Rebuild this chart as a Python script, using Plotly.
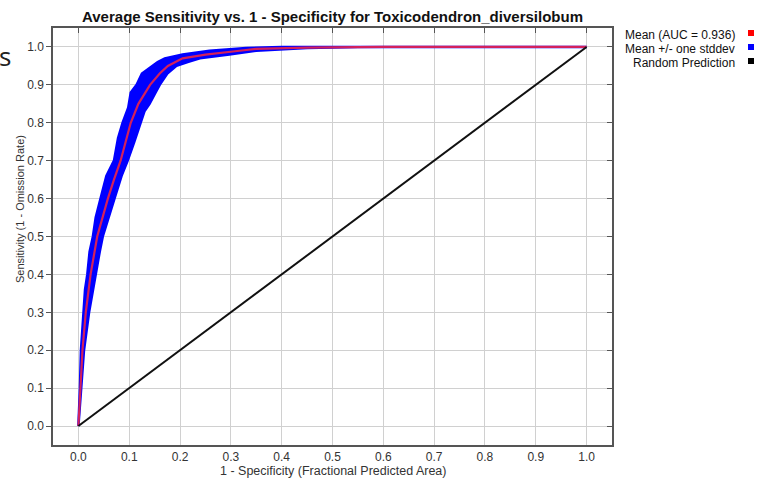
import plotly.graph_objects as go

# ---- data ----
title_text = "Average Sensitivity vs. 1 - Specificity for Toxicodendron_diversilobum"
legend_labels = ["Mean (AUC = 0.936)", "Mean +/- one stddev", "Random Prediction"]
legend_colors = ["#ff0000", "#0000ff", "#000000"]
tick_vals = [0.0, 0.1, 0.2, 0.3, 0.4, 0.5, 0.6, 0.7, 0.8, 0.9, 1.0]

# mean curve (1 - specificity, sensitivity)
mean_x = [0, 0.002, 0.005, 0.008, 0.0145, 0.024, 0.037, 0.047, 0.058, 0.07, 0.083, 0.093, 0.103,
          0.118, 0.13, 0.141, 0.16, 0.176, 0.205, 0.25, 0.317, 0.35, 0.45, 0.6, 1.0]
mean_y = [0, 0.05, 0.1, 0.2, 0.3, 0.4, 0.5, 0.55, 0.6, 0.65, 0.7, 0.75, 0.8,
          0.85, 0.875, 0.9, 0.93, 0.95, 0.97, 0.98, 0.99, 0.995, 0.998, 1.0, 1.0]

# mean + stddev edge (upper-left side of the band)
upper_x = [0, 0.002, 0.003, 0.005, 0.0105, 0.013, 0.0175, 0.022, 0.0285, 0.034, 0.0435, 0.055,
           0.07, 0.078, 0.087, 0.098, 0.103, 0.1145, 0.125, 0.135, 0.144, 0.156, 0.17,
           0.205, 0.258, 0.33, 0.4, 1.0]
upper_y = [0, 0.06, 0.1, 0.2, 0.3, 0.36, 0.4, 0.46, 0.5, 0.55, 0.6, 0.66,
           0.7, 0.76, 0.8, 0.84, 0.88, 0.9, 0.93, 0.94, 0.95, 0.96, 0.97,
           0.98, 0.99, 0.997, 1.0, 1.0]

# mean - stddev edge (lower-right side of the band)
lower_x = [0, 0.003, 0.006, 0.011, 0.021, 0.028, 0.034, 0.042, 0.048, 0.06, 0.071, 0.085,
           0.097, 0.11, 0.123, 0.13, 0.14, 0.152, 0.16, 0.175, 0.193, 0.215, 0.239,
           0.297, 0.35, 0.45, 0.55, 1.0]
lower_y = [0, 0.04, 0.1, 0.2, 0.3, 0.35, 0.4, 0.46, 0.5, 0.55, 0.6, 0.66,
           0.7, 0.75, 0.8, 0.83, 0.85, 0.88, 0.9, 0.93, 0.95, 0.96, 0.97,
           0.98, 0.99, 0.997, 1.0, 1.0]

random_x = [0.0, 1.0]
random_y = [0.0, 1.0]

W, H = 763, 481
ML, MR, MT, MB = 53, 151, 28, 36
PW, PH = W - ML - MR, H - MT - MB

def px(xp):
    return (xp - ML) / PW

def py(yp):
    return (H - MB - yp) / PH

FONT = "Liberation Sans, Arial, Helvetica, sans-serif"

fig = go.Figure()

# stddev band
fig.add_trace(go.Scatter(
    x=upper_x + lower_x[::-1], y=upper_y + lower_y[::-1],
    mode="lines", fill="toself", fillcolor="#0000ff",
    line=dict(color="#0000ff", width=2.5), showlegend=False, hoverinfo="skip"))

# mean curve
fig.add_trace(go.Scatter(
    x=mean_x, y=mean_y, mode="lines",
    line=dict(color="#d3205c", width=2.2), showlegend=False))

# random prediction (on overlay axes, which also carry the inside ticks)
fig.add_trace(go.Scatter(
    x=random_x, y=random_y, mode="lines", xaxis="x2", yaxis="y2",
    line=dict(color="#111111", width=2), showlegend=False))

rng = [-0.05, 1.05]
axis_common = dict(range=rng, tickvals=tick_vals, zeroline=False)

fig.update_layout(
    width=W, height=H,
    margin=dict(l=ML, r=MR, t=MT, b=MB),
    paper_bgcolor="white", plot_bgcolor="white",
    font=dict(family=FONT, size=11, color="#333333"),
    xaxis=dict(**axis_common, tickformat=".1f", showgrid=True, gridcolor="#d0d0d0",
               gridwidth=1, showline=True, linecolor="#555555", linewidth=1.5,
               mirror=True, ticks="", ticklabelstandoff=0,
               tickfont=dict(size=12, color="#333333")),
    yaxis=dict(**axis_common, tickformat=".1f", showgrid=True, gridcolor="#d0d0d0",
               gridwidth=1, showline=True, linecolor="#555555", linewidth=1.5,
               mirror=True, ticks="outside", ticklen=5, tickcolor="#555555",
               tickfont=dict(size=12, color="#333333")),
    xaxis2=dict(**axis_common, overlaying="x", side="top", anchor="y2",
                showgrid=False, showticklabels=False, ticks="inside", ticklen=5,
                tickcolor="#555555", showline=False),
    yaxis2=dict(**axis_common, overlaying="y", side="right", anchor="x2",
                showgrid=False, showticklabels=False, ticks="inside", ticklen=5,
                tickcolor="#555555", showline=False),
    showlegend=False,
)

ann = []
ann.append(dict(text="<b>" + title_text + "</b>", xref="paper", yref="paper",
                x=0.5, y=py(17), xanchor="center", yanchor="middle", showarrow=False,
                font=dict(family=FONT, size=15, color="#111111")))
ann.append(dict(text="1 - Specificity (Fractional Predicted Area)", xref="paper", yref="paper",
                x=0.5, y=py(471), xanchor="center", yanchor="middle", showarrow=False,
                font=dict(family=FONT, size=12.5, color="#333333")))
ann.append(dict(text="Sensitivity (1 - Omission Rate)", xref="paper", yref="paper",
                x=px(20), y=py(209), xanchor="center", yanchor="middle", showarrow=False,
                textangle=-90, font=dict(family=FONT, size=11, color="#333333")))

row_y = [35, 49, 63]
shapes = []
for lab, col, ry in zip(legend_labels, legend_colors, row_y):
    ann.append(dict(text=lab, xref="paper", yref="paper", x=px(737), y=py(ry),
                    xanchor="right", yanchor="middle", showarrow=False,
                    font=dict(family=FONT, size=12, color="#111111")))
    shapes.append(dict(type="rect", xref="paper", yref="paper",
                       x0=px(748), x1=px(754), y0=py(ry + 1), y1=py(ry - 5),
                       fillcolor=col, line=dict(width=0)))

# stray slide text cut off on the left edge
ann.append(dict(text="s", xref="paper", yref="paper", x=px(-3), y=py(56),
                xanchor="left", yanchor="middle", showarrow=False,
                font=dict(family="Open Sans, sans-serif", size=26, color="#222222")))

fig.update_layout(annotations=ann, shapes=shapes)

fig.write_html("out.html", config={"displayModeBar": False},
               post_script="document.body.style.margin='0';document.body.style.overflow='hidden';")
